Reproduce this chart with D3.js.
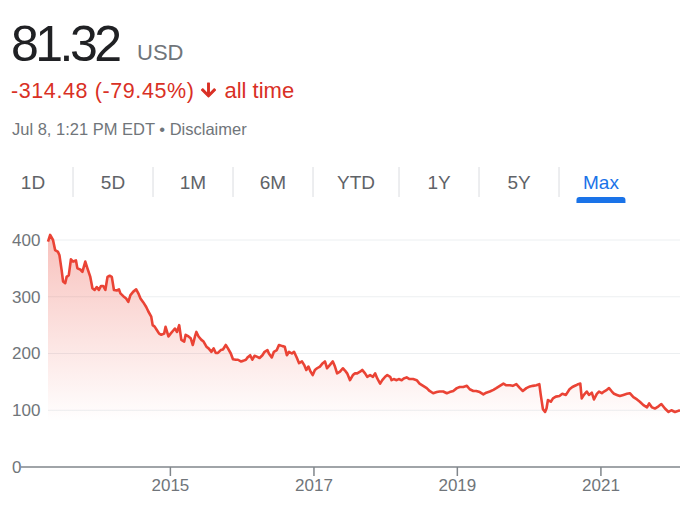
<!DOCTYPE html>
<html>
<head>
<meta charset="utf-8">
<script src="https://cdn.jsdelivr.net/npm/d3@7"></script>
<style>
  body { margin: 0; background: #fff; }
  svg { display: block; font-family: Arial, "Liberation Sans", sans-serif; }
</style>
</head>
<body>
<script>
// price history (decimal year, USD)
const years = [
  2013.30, 2013.33, 2013.37, 2013.40, 2013.44, 2013.46, 2013.49, 2013.51, 2013.54, 2013.56,
  2013.59, 2013.62, 2013.65, 2013.69, 2013.71, 2013.75, 2013.78, 2013.82, 2013.85, 2013.89,
  2013.92, 2013.95, 2013.98, 2014.01, 2014.04, 2014.07, 2014.10, 2014.13, 2014.16, 2014.19,
  2014.22, 2014.26, 2014.29, 2014.31, 2014.35, 2014.39, 2014.42, 2014.45, 2014.49, 2014.53,
  2014.56, 2014.59, 2014.63, 2014.67, 2014.70, 2014.74, 2014.76, 2014.79, 2014.82, 2014.85,
  2014.88, 2014.92, 2014.94, 2014.98, 2015.01, 2015.05, 2015.07, 2015.10, 2015.13, 2015.16,
  2015.20, 2015.22, 2015.26, 2015.29, 2015.32, 2015.35, 2015.37, 2015.40, 2015.44, 2015.47,
  2015.51, 2015.54, 2015.58, 2015.61, 2015.64, 2015.67, 2015.71, 2015.74, 2015.78, 2015.81,
  2015.85, 2015.88, 2015.92, 2015.95, 2015.99, 2016.02, 2016.06, 2016.09, 2016.12, 2016.15,
  2016.18, 2016.22, 2016.25, 2016.29, 2016.32, 2016.36, 2016.38, 2016.42, 2016.45, 2016.49,
  2016.52, 2016.57, 2016.60, 2016.63, 2016.66, 2016.70, 2016.73, 2016.77, 2016.80, 2016.84,
  2016.87, 2016.90, 2016.93, 2016.96, 2016.99, 2017.02, 2017.05, 2017.09, 2017.13, 2017.16,
  2017.19, 2017.23, 2017.27, 2017.30, 2017.33, 2017.37, 2017.41, 2017.44, 2017.47, 2017.51,
  2017.55, 2017.58, 2017.61, 2017.65, 2017.68, 2017.72, 2017.75, 2017.79, 2017.83, 2017.86,
  2017.89, 2017.93, 2017.96, 2018.00, 2018.03, 2018.07, 2018.09, 2018.12, 2018.16, 2018.19,
  2018.23, 2018.26, 2018.30, 2018.34, 2018.39, 2018.44, 2018.48, 2018.53, 2018.58, 2018.62,
  2018.67, 2018.72, 2018.76, 2018.81, 2018.86, 2018.90, 2018.95, 2019.00, 2019.04, 2019.09,
  2019.14, 2019.18, 2019.23, 2019.27, 2019.32, 2019.37, 2019.41, 2019.46, 2019.51, 2019.55,
  2019.60, 2019.65, 2019.69, 2019.74, 2019.78, 2019.83, 2019.88, 2019.92, 2019.97, 2020.02,
  2020.06, 2020.11, 2020.15, 2020.17, 2020.20, 2020.23, 2020.25, 2020.27, 2020.31, 2020.34,
  2020.38, 2020.43, 2020.47, 2020.52, 2020.57, 2020.61, 2020.66, 2020.69, 2020.72, 2020.74,
  2020.77, 2020.81, 2020.84, 2020.88, 2020.91, 2020.95, 2020.98, 2021.02, 2021.05, 2021.09,
  2021.12, 2021.16, 2021.19, 2021.23, 2021.27, 2021.32, 2021.37, 2021.41, 2021.46, 2021.51,
  2021.55, 2021.60, 2021.65, 2021.68, 2021.72, 2021.76, 2021.81, 2021.85, 2021.90, 2021.95,
  2021.99, 2022.04, 2022.09, 2022.11
];
const prices = [
  397, 409, 400, 382, 379, 373, 347, 327, 324, 335,
  338, 366, 362, 364, 350, 348, 344, 362, 350, 335,
  315, 312, 317, 312, 319, 319, 312, 335, 337, 335,
  312, 311, 313, 306, 301, 297, 291, 303, 309, 313,
  306, 297, 290, 282, 274, 265, 250, 247, 241, 235,
  233, 235, 247, 230, 235, 241, 244, 238, 250, 224,
  221, 233, 230, 227, 215, 230, 238, 230, 224, 221,
  212, 209, 203, 209, 201, 201, 206, 207, 215, 209,
  200, 190, 189, 189, 186, 187, 189, 194, 197, 189,
  196, 194, 192, 197, 203, 206, 200, 193, 203, 206,
  215, 213, 212, 197, 203, 200, 203, 192, 183, 186,
  180, 171, 177, 168, 162, 171, 174, 177, 183, 186,
  174, 180, 186, 177, 165, 168, 174, 170, 165, 153,
  162, 165, 165, 168, 171, 165, 159, 162, 159, 165,
  156, 147, 153, 159, 162, 159, 153, 155, 153, 155,
  153, 156, 158, 155, 155, 153, 147, 143, 139, 134,
  130, 132, 133, 133, 130, 132, 134, 139, 141, 141,
  143, 137, 134, 134, 132, 128, 131, 133, 136, 139,
  143, 147, 144, 144, 143, 146, 139, 134, 139, 142,
  143, 144, 146, 127, 102, 97, 103, 118, 115, 121,
  124, 125, 129, 127, 137, 141, 144, 146, 147, 121,
  127, 133, 127, 131, 119, 129, 133, 130, 133, 136,
  139, 133, 129, 127, 125, 127, 129, 130, 123, 119,
  115, 109, 105, 112, 105, 103, 107, 111, 103, 97,
  100, 97, 99, 100
];
const yTicks = [0, 100, 200, 300, 400];
const xTickYears = [2015, 2017, 2019, 2021];
const tabs = ["1D", "5D", "1M", "6M", "YTD", "1Y", "5Y", "Max"];
const activeTab = "Max";

let w = 680;
let h = 518;

let svg = d3.select("body")
    .append("svg")
    .attr("width", w)
    .attr("height", h);

// decimal year -> Date
let toDate = (yr) => {
    let y0 = Math.floor(yr);
    let start = new Date(y0, 0, 1), end = new Date(y0 + 1, 0, 1);
    return new Date(+start + (yr - y0) * (end - start));
};

let data = years.map((d, i) => ({ date: toDate(d), price: prices[i] }));

// ---- header ----
svg.append("text")
    .attr("x", 11).attr("y", 61)
    .attr("font-size", 50).attr("letter-spacing", -3.5)
    .attr("fill", "#202124")
    .text("81.32");

svg.append("text")
    .attr("x", 137).attr("y", 60)
    .attr("font-size", 22)
    .attr("fill", "#70757a")
    .text("USD");

let change = svg.append("text")
    .attr("x", 11).attr("y", 98)
    .attr("font-size", 21.5).attr("letter-spacing", 0.6)
    .attr("fill", "#d93025")
    .text("-314.48 (-79.45%)");

let cw = change.node().getComputedTextLength();
let ax = 11 + cw + 7;
// material arrow_downward, a bit bolder
svg.append("path")
    .attr("d", "M20 12l-1.41-1.41L13 16.17V4h-2v12.17l-5.58-5.59L4 12l8 8 8-8z")
    .attr("transform", `translate(${ax - 3.5},79.5) scale(0.875)`)
    .attr("fill", "#d93025")
    .attr("stroke", "#d93025")
    .attr("stroke-width", 1.3)
    .attr("stroke-linejoin", "round");

svg.append("text")
    .attr("x", ax + 23).attr("y", 98)
    .attr("font-size", 22)
    .attr("fill", "#d93025")
    .text("all time");

svg.append("text")
    .attr("x", 12).attr("y", 135)
    .attr("font-size", 16.5)
    .attr("fill", "#70757a")
    .text("Jul 8, 1:21 PM EDT \u2022 Disclaimer");

// ---- range tabs ----
let tabG = svg.append("g");
let cx = -7;
tabs.forEach((t, i) => {
    let label = tabG.append("text")
        .attr("y", 189)
        .attr("font-size", 19)
        .attr("text-anchor", "middle")
        .attr("fill", t === activeTab ? "#1a73e8" : "#5f6368")
        .text(t);
    let tw = label.node().getComputedTextLength();
    let cellW = Math.max(80, tw + 48);
    let mid = cx + cellW / 2;
    label.attr("x", mid);
    if (i > 0) {
        tabG.append("line")
            .attr("x1", cx).attr("x2", cx)
            .attr("y1", 167).attr("y2", 197)
            .attr("stroke", "#dadce0");
    }
    if (t === activeTab) {
        let uw = 49, r = 3;
        tabG.append("path")
            .attr("d", `M${mid - uw / 2},203 V${197 + r} Q${mid - uw / 2},197 ${mid - uw / 2 + r},197 H${mid + uw / 2 - r} Q${mid + uw / 2},197 ${mid + uw / 2},${197 + r} V203 Z`)
            .attr("fill", "#1a73e8");
    }
    cx += cellW;
});

// ---- chart ----
let x = d3.scaleTime()
    .domain(d3.extent(data, d => d.date))
    .range([48, 680]);

let y = d3.scaleLinear()
    .domain([0, 400])
    .range([467, 240]);

let defs = svg.append("defs");
let grad = defs.append("linearGradient")
    .attr("id", "fade")
    .attr("gradientUnits", "userSpaceOnUse")
    .attr("x1", 0).attr("x2", 0)
    .attr("y1", y(400)).attr("y2", y(80));
grad.append("stop").attr("offset", 0).attr("stop-color", "#ea4335").attr("stop-opacity", 0.32);
grad.append("stop").attr("offset", 1).attr("stop-color", "#ea4335").attr("stop-opacity", 0);

// gridlines
svg.append("g")
    .selectAll("line")
    .data(yTicks.filter(d => d > 0))
    .enter()
    .append("line")
    .attr("x1", 48).attr("x2", w)
    .attr("y1", d => y(d)).attr("y2", d => y(d))
    .attr("stroke", "#eceff1")
    .attr("stroke-width", 1);

// y labels
svg.append("g")
    .selectAll("text")
    .data(yTicks)
    .enter()
    .append("text")
    .attr("x", 12)
    .attr("y", d => y(d))
    .attr("dy", "0.35em")
    .attr("font-size", 17)
    .attr("fill", "#70757a")
    .text(d => d);

// area + line
svg.append("path")
    .datum(data)
    .attr("fill", "url(#fade)")
    .attr("d", d3.area()
        .x(d => x(d.date))
        .y0(y(0))
        .y1(d => y(d.price)));

svg.append("path")
    .datum(data)
    .attr("fill", "none")
    .attr("stroke", "#ea4335")
    .attr("stroke-width", 2.6)
    .attr("stroke-linejoin", "round")
    .attr("d", d3.line()
        .x(d => x(d.date))
        .y(d => y(d.price)));

// x axis
svg.append("line")
    .attr("x1", 21).attr("x2", w)
    .attr("y1", y(0)).attr("y2", y(0))
    .attr("stroke", "#80868b")
    .attr("stroke-width", 1.5);

let xAxis = svg.append("g")
    .attr("transform", `translate(0,${y(0)})`)
    .call(d3.axisBottom(x)
        .tickValues(xTickYears.map(yr => new Date(yr, 0, 1)))
        .tickSize(9)
        .tickPadding(3)
        .tickFormat(d3.timeFormat("%Y")));

xAxis.select(".domain").remove();
xAxis.selectAll(".tick line").attr("stroke", "#80868b").attr("stroke-width", 1.5);
xAxis.selectAll(".tick text")
    .attr("font-size", 17)
    .attr("font-family", "Arial, 'Liberation Sans', sans-serif")
    .attr("fill", "#70757a");
</script>
</body>
</html>
